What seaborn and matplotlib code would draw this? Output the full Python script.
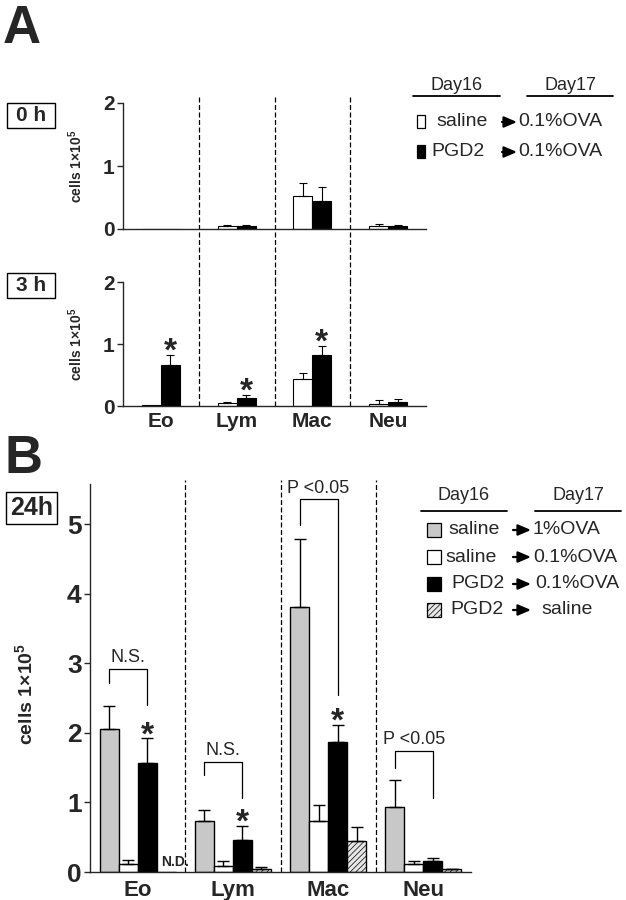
import numpy as np
import pandas as pd
import matplotlib
matplotlib.use("Agg")
import matplotlib.pyplot as plt
import seaborn as sns
from matplotlib.patches import Rectangle, FancyArrowPatch
from matplotlib.lines import Line2D

# ---------------- data ----------------
cells = ["Eo", "Lym", "Mac", "Neu"]

# Panel A (cells x 1e5)
a_groups = ["saline", "PGD2"]
a0_saline = [0.0, 0.05, 0.52, 0.04]
a0_saline_sem = [0.0, 0.02, 0.21, 0.04]
a0_pgd2 = [0.0, 0.05, 0.45, 0.05]
a0_pgd2_sem = [0.0, 0.02, 0.21, 0.02]
a3_saline = [0.02, 0.05, 0.43, 0.04]
a3_saline_sem = [0.0, 0.02, 0.10, 0.05]
a3_pgd2 = [0.66, 0.13, 0.82, 0.06]
a3_pgd2_sem = [0.17, 0.05, 0.15, 0.05]
a3_star_cells = ["Eo", "Lym", "Mac"]

# Panel B (24h)
b_groups = ["saline-1%OVA", "saline-0.1%OVA", "PGD2-0.1%OVA", "PGD2-saline"]
b_sal1 = [2.06, 0.74, 3.81, 0.94]
b_sal1_sem = [0.33, 0.15, 0.98, 0.38]
b_sal01 = [0.12, 0.09, 0.73, 0.12]
b_sal01_sem = [0.05, 0.07, 0.23, 0.04]
b_pgd01 = [1.57, 0.46, 1.87, 0.16]
b_pgd01_sem = [0.35, 0.20, 0.25, 0.04]
b_pgdsal = [0.0, 0.04, 0.44, 0.04]
b_pgdsal_sem = [0.0, 0.03, 0.21, 0.01]
b_nd_cells = ["Eo"]
b_star_cells = ["Eo", "Lym", "Mac"]
# significance brackets: cell, top, left end, right end, label
b_sig_cell = ["Eo", "Lym", "Mac", "Neu"]
b_sig_top = [2.92, 1.58, 5.36, 1.74]
b_sig_left_end = [2.72, 1.39, 4.99, 1.49]
b_sig_right_end = [2.40, 1.06, 2.54, 1.07]
b_sig_label = ["N.S.", "N.S.", "P <0.05", "P <0.05"]

# ---------------- style ----------------
sns.set_style("ticks")
plt.rcParams["font.family"] = ["Liberation Sans", "DejaVu Sans"]
plt.rcParams["mathtext.fontset"] = "custom"
plt.rcParams["mathtext.rm"] = "Liberation Sans"
plt.rcParams["mathtext.bf"] = "Liberation Sans:bold"
plt.rcParams["mathtext.default"] = "bf"
plt.rcParams["hatch.linewidth"] = 0.5

W, H = 626, 900
fig = plt.figure(figsize=(W / 100, H / 100), dpi=100)


def fx(x):
    return x / W


def fy(y):
    return 1 - y / H


def rect(l, t, r, b):
    return [l / W, 1 - b / H, (r - l) / W, (b - t) / H]


def long_df(groups, means, sems):
    rows = []
    for g, m, s in zip(groups, means, sems):
        for c, v, e in zip(cells, m, s):
            rows.append({"cell": c, "group": g, "value": v, "sem": e})
    return pd.DataFrame(rows)


def draw_bars(ax, df, groups, palette, width, lw, capsize):
    sns.barplot(data=df, x="cell", y="value", hue="group", order=cells,
                hue_order=groups, palette=palette, edgecolor="black",
                linewidth=lw, width=width, errorbar=None, legend=False,
                saturation=1, ax=ax)
    centers = {}
    tops = {}
    for cont, g in zip(ax.containers, groups):
        sub = df[df.group == g].set_index("cell")
        for bar, c in zip(cont, cells):
            x = bar.get_x() + bar.get_width() / 2
            v = sub.loc[c, "value"]
            s = sub.loc[c, "sem"]
            centers[(g, c)] = x
            tops[(g, c)] = v + s
            if s > 0:
                ax.errorbar([x], [v], yerr=[[0], [s]], fmt="none", ecolor="black",
                            elinewidth=lw, capsize=capsize, capthick=lw, zorder=3)
    return centers, tops


def style_axis(ax, ymax, yticks, tick_fs, lw):
    sns.despine(ax=ax)
    ax.set_ylim(0, ymax)
    ax.set_xlim(-0.5, 3.5)
    ax.set_yticks(yticks)
    ax.set_yticklabels([str(t) for t in yticks], fontsize=tick_fs, fontweight="bold")
    ax.tick_params(axis="y", length=4, width=lw, pad=2)
    ax.tick_params(axis="x", length=0)
    for sp in ax.spines.values():
        sp.set_linewidth(lw)
    ax.set_xlabel("")
    ax.set_facecolor("none")


ylab = r"cells 1$\times$10$^{5}$"

# ---------------- Panel A ----------------
a_pal = ["white", "black"]
axA0 = fig.add_axes(rect(123, 103, 426, 229))
dfA0 = long_df(a_groups, [a0_saline, a0_pgd2], [a0_saline_sem, a0_pgd2_sem])
draw_bars(axA0, dfA0, a_groups, a_pal, 0.5, 0.8, 3)
style_axis(axA0, 2, [0, 1, 2], 15, 1.0)
axA0.set_xticklabels([])
axA0.set_ylabel(ylab, fontsize=10, fontweight="bold")
axA0.yaxis.set_label_coords(-0.125, 0.5)

axA3 = fig.add_axes(rect(123, 282, 426, 406))
dfA3 = long_df(a_groups, [a3_saline, a3_pgd2], [a3_saline_sem, a3_pgd2_sem])
cA3, tA3 = draw_bars(axA3, dfA3, a_groups, a_pal, 0.5, 0.8, 3)
style_axis(axA3, 2, [0, 1, 2], 15, 1.0)
axA3.set_xticks(range(len(cells)))
axA3.set_xticklabels(cells, fontsize=15, fontweight="bold")
axA3.tick_params(axis="x", pad=4)
axA3.set_ylabel(ylab, fontsize=10, fontweight="bold")
axA3.yaxis.set_label_coords(-0.125, 0.5)
for c in a3_star_cells:
    axA3.annotate("*", (cA3[("PGD2", c)], tA3[("PGD2", c)]), xytext=(0, 2),
                  textcoords="offset points", ha="center", va="center",
                  fontsize=24, fontweight="bold")

# dashed separators spanning both A panels
gapA = (282 - 229) / 126
for xb in [0.5, 1.5, 2.5]:
    axA0.axvline(xb, ymin=-gapA, ymax=1.05, color="black", lw=0.9,
                 ls=(0, (4, 2)), clip_on=False, zorder=0)
    axA3.axvline(xb, ymin=0, ymax=1.0, color="black", lw=0.9,
                 ls=(0, (4, 2)), clip_on=False, zorder=0)

# ---------------- Panel B ----------------
b_pal = ["#c8c8c8", "white", "black", "#e6e6e6"]
axB = fig.add_axes(rect(90, 484, 471, 872))
dfB = long_df(b_groups, [b_sal1, b_sal01, b_pgd01, b_pgdsal],
              [b_sal1_sem, b_sal01_sem, b_pgd01_sem, b_pgdsal_sem])
cB, tB = draw_bars(axB, dfB, b_groups, b_pal, 0.8, 1.0, 4)
for bar in axB.containers[3]:
    bar.set_hatch("//////")
style_axis(axB, 5.58, [0, 1, 2, 3, 4, 5], 19, 1.0)
axB.set_xticks(range(len(cells)))
axB.set_xticklabels(cells, fontsize=16, fontweight="bold")
axB.tick_params(axis="x", pad=6)
axB.set_ylabel(ylab, fontsize=14, fontweight="bold")
axB.yaxis.set_label_coords(-0.142, 0.46)
for xb in [0.5, 1.5, 2.5]:
    axB.axvline(xb, ymin=0, ymax=1.01, color="black", lw=0.9,
                ls=(0, (4, 2)), clip_on=False, zorder=0)
for c in b_star_cells:
    axB.annotate("*", (cB[(b_groups[2], c)], tB[(b_groups[2], c)]), xytext=(0, 2),
                 textcoords="offset points", ha="center", va="center",
                 fontsize=24, fontweight="bold")
for c in b_nd_cells:
    axB.annotate("N.D.", (cB[(b_groups[3], c)], 0), xytext=(-4, 2),
                 textcoords="offset points", ha="left", va="bottom",
                 fontsize=10, fontweight="bold")
for c, top, le, re, lab in zip(b_sig_cell, b_sig_top, b_sig_left_end,
                               b_sig_right_end, b_sig_label):
    xl = cB[(b_groups[0], c)]
    xr = cB[(b_groups[2], c)]
    axB.plot([xl, xl, xr, xr], [le, top, top, re], color="black", lw=0.9,
             clip_on=False)
    axB.annotate(lab, ((xl + xr) / 2, top), xytext=(0, 2),
                 textcoords="offset points", ha="center", va="bottom",
                 fontsize=13)

# ---------------- labels / boxes ----------------
fig.text(fx(3), fy(4), "A", fontsize=38, fontweight="bold", va="top", ha="left")
fig.text(fx(5), fy(434), "B", fontsize=38, fontweight="bold", va="top", ha="left")


def boxed(l, t, r, b, s, fs):
    fig.add_artist(Rectangle((fx(l), fy(b)), (r - l) / W, (b - t) / H,
                             transform=fig.transFigure, fill=False,
                             edgecolor="black", lw=1.0))
    fig.text(fx((l + r) / 2), fy((t + b) / 2), s, fontsize=fs, fontweight="bold",
             ha="center", va="center")


boxed(7, 103, 55, 128, "0 h", 15)
boxed(7, 273, 55, 298, "3 h", 15)
boxed(6, 492, 57, 524, "24h", 18)


# ---------------- legends ----------------
def arrow(x0, x1, y):
    fig.add_artist(FancyArrowPatch((fx(x0), fy(y)), (fx(x1), fy(y)),
                                   transform=fig.transFigure,
                                   arrowstyle="-|>,head_length=0.7,head_width=0.3",
                                   mutation_scale=11, lw=1.6, color="black",
                                   shrinkA=0, shrinkB=0))


def header(y_text, y_line, x16, x17):
    fig.text(fx((x16[0] + x16[1]) / 2), fy(y_text), "Day16", fontsize=13,
             ha="center", va="center")
    fig.text(fx((x17[0] + x17[1]) / 2), fy(y_text), "Day17", fontsize=13,
             ha="center", va="center")
    for xs in (x16, x17):
        fig.add_artist(Line2D([fx(xs[0]), fx(xs[1])], [fy(y_line)] * 2,
                              color="black", lw=1.3))


def swatch(l, t, w, h, fc, hatch=None):
    p = Rectangle((fx(l), fy(t + h)), w / W, h / H, transform=fig.transFigure,
                  facecolor=fc, edgecolor="black", lw=0.9)
    if hatch:
        p.set_hatch(hatch)
    fig.add_artist(p)


# Legend A
header(86, 96, (413, 500), (527, 613))
a_leg_y = [122, 152]
a_leg_d16 = ["saline", "PGD2"]
a_leg_d17 = ["0.1%OVA", "0.1%OVA"]
a_leg_txt_x = [436, 431]
for y, fc, d16, d17, tx in zip(a_leg_y, a_pal, a_leg_d16, a_leg_d17, a_leg_txt_x):
    swatch(417, y - 7, 8, 13, fc)
    fig.text(fx(tx), fy(y), d16, fontsize=14, ha="left", va="center")
    arrow(502, 517, y)
    fig.text(fx(518), fy(y), d17, fontsize=14, ha="left", va="center")

# Legend B
header(495, 511, (421, 507), (535, 621))
b_leg_y = [530, 557, 584, 610]
b_leg_d16 = ["saline", "saline", "PGD2", "PGD2"]
b_leg_d17 = ["1%OVA", "0.1%OVA", "0.1%OVA", "saline"]
b_leg_txt_x = [448, 445, 451, 450]
b_leg_d17_x = [532, 533, 535, 541]
b_leg_hatch = [None, None, None, "//////"]
for y, fc, d16, d17, tx, t17, ht in zip(b_leg_y, b_pal, b_leg_d16, b_leg_d17,
                                       b_leg_txt_x, b_leg_d17_x, b_leg_hatch):
    swatch(427, y - 7, 14, 14, fc, ht)
    fig.text(fx(tx), fy(y), d16, fontsize=14, ha="left", va="center")
    arrow(513, 531, y)
    fig.text(fx(t17), fy(y), d17, fontsize=14, ha="left", va="center")

fig.savefig("out.png", dpi=100, facecolor="white")
